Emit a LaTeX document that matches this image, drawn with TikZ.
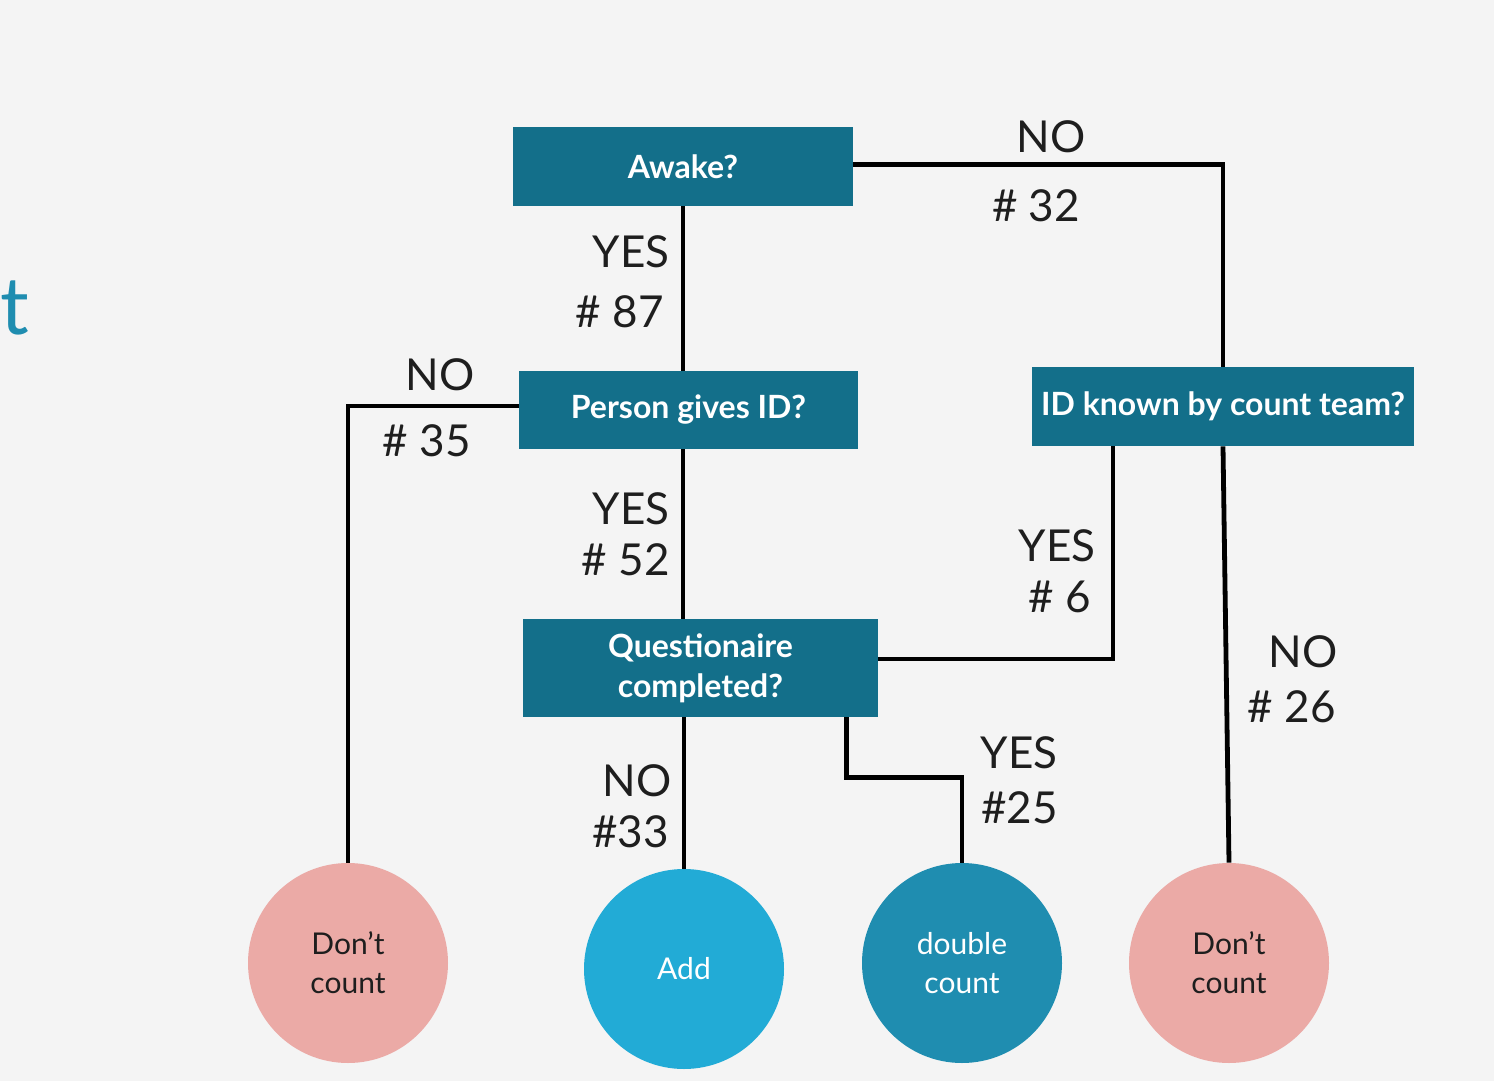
\documentclass[tikz,border=0pt]{standalone}
\usepackage{fontspec}
\setmainfont{Lato}
\usepackage{tikz}
\usetikzlibrary{calc}
\definecolor{bg}{HTML}{F4F4F4}
\definecolor{boxc}{HTML}{136F8A}
\definecolor{addc}{HTML}{22ABD6}
\definecolor{dblc}{HTML}{1F8DB0}
\definecolor{pinkc}{HTML}{EBAAA6}
\definecolor{ink}{HTML}{1E1E1E}
\tikzset{
  qbox/.style={fill=boxc, text=white, font=\fontsize{16}{20}\selectfont\bfseries, align=center, inner sep=0pt},
  leaf/.style={circle, minimum size=100pt, inner sep=0pt, align=center, font=\fontsize{15}{19.5}\selectfont},
  wire/.style={draw=black, line width=2.4pt, line join=miter},
  lab/.style={text=ink, font=\fontsize{22}{28}\selectfont, inner sep=0pt, anchor=east}
}
\begin{document}
\begin{tikzpicture}[x=0.5pt, y=-0.5pt]
  \fill[bg] (0,0) rectangle (1494,1081);
  \useasboundingbox (0,0) rectangle (1494,1081);

  \node[text=dblc, font=\fontsize{40}{40}\selectfont, anchor=west, inner sep=0pt] (ttl) at (0,308) {t};

  % questions
  \node[qbox, minimum width=170pt, minimum height=39.5pt] (awake) at (683,166.5) {Awake?};
  \node[qbox, minimum width=169.5pt, minimum height=39pt] (pgid) at (688.5,410) {Person gives ID?};
  \node[qbox, minimum width=191pt, minimum height=39.5pt] (idk) at (1223,406.5) {ID known by count team?};
  \node[qbox, minimum width=177.5pt, minimum height=49pt] (q) at (700.5,668) {Questionaire\\completed?};

  % outcomes
  \node[leaf, fill=pinkc, text=ink] (dcl) at (348,963) {Don’t\\count};
  \node[leaf, fill=addc, text=white] (add) at (684,969) {Add};
  \node[leaf, fill=dblc, text=white] (dbl) at (962,963) {double\\count};
  \node[leaf, fill=pinkc, text=ink] (dcr) at (1229,963) {Don’t\\count};

  % connectors
  \draw[wire] ([yshift=1pt]awake.east) -| (idk.north);
  \draw[wire] (awake.south) -- (awake.south |- pgid.north);
  \draw[wire] ([yshift=2pt]pgid.west) -| (dcl.north);
  \draw[wire] (awake.south |- pgid.south) -- (awake.south |- q.north);
  \draw[wire] ([xshift=-55pt]idk.south) |- ([yshift=4.5pt]q.east);
  \draw[wire] (idk.south) -- (dcr.north);
  \draw[wire] (add.north |- q.south) -- (add.north);
  \draw[wire] ([xshift=73pt]q.south) -- ++(0,60) -| (dbl.north);

  % labels
  \node[lab, anchor=center] (n1) at (1051,137) {NO};
  \node[lab, anchor=center] (c1) at (1036,206) {\# 32};
  \node[lab] (y1) at (670,252) {YES};
  \node[lab] (c2) at (664,312) {\# 87};
  \node[lab] (n2) at (475,375) {NO};
  \node[lab] (c3) at (471,441) {\# 35};
  \node[lab] (y2) at (670,509) {YES};
  \node[lab] (c4) at (670,560) {\# 52};
  \node[lab] (y3) at (1096,546) {YES};
  \node[lab] (c5) at (1091,597) {\# 6};
  \node[lab] (n3) at (1338,652) {NO};
  \node[lab] (c6) at (1336,707) {\# 26};
  \node[lab] (n4) at (672,781) {NO};
  \node[lab] (c7) at (669,832) {\#33};
  \node[lab] (y4) at (1058,753) {YES};
  \node[lab] (c8) at (1058,808) {\#25};
\end{tikzpicture}
\end{document}
